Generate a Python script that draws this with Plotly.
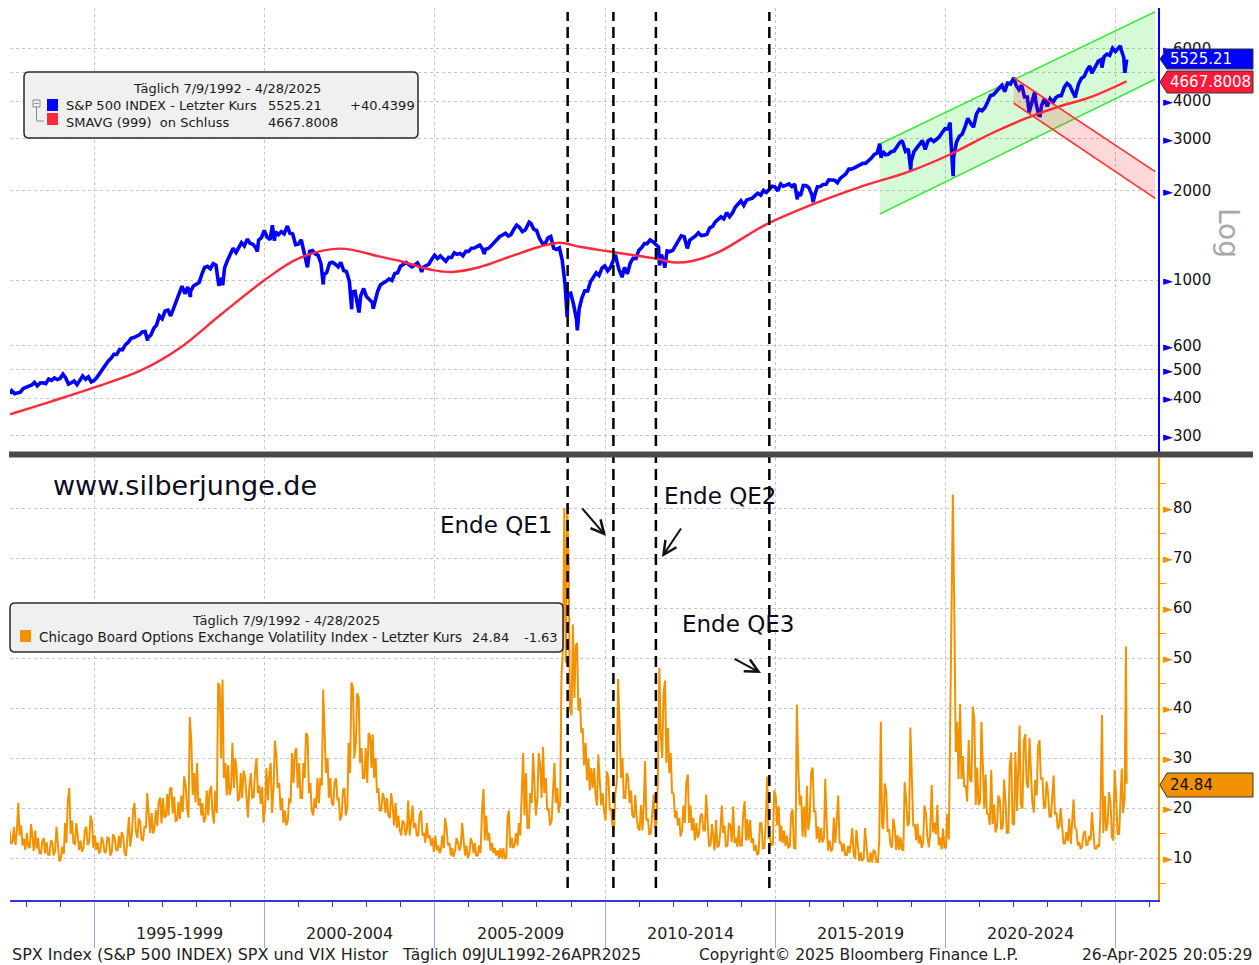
import pandas as pd
import plotly.graph_objects as go

# ---------------- data ----------------
spx_start_date = "1992-07-09"
spx_start_value = 414.0
# S&P 500 monthly closes, Jul 1992 .. Apr 2025 (last = 4/28/2025)
spx_monthly_close = [
    424, 414, 418, 419, 431, 436,
    439, 443, 452, 440, 450, 451, 448, 464, 459, 468, 462, 466,
    482, 467, 446, 451, 457, 444, 458, 475, 463, 472, 454, 459,
    470, 487, 501, 515, 533, 545, 562, 562, 584, 582, 605, 616,
    636, 640, 645, 654, 669, 671, 640, 652, 687, 705, 757, 741,
    786, 791, 757, 801, 848, 885, 954, 899, 947, 915, 955, 970,
    980, 1049, 1102, 1112, 1091, 1134, 1121, 957, 1017, 1099, 1164, 1229,
    1280, 1238, 1286, 1335, 1302, 1373, 1329, 1320, 1283, 1363, 1389, 1469,
    1394, 1366, 1499, 1452, 1421, 1455, 1431, 1518, 1437, 1429, 1315, 1320,
    1366, 1240, 1160, 1249, 1256, 1224, 1211, 1134, 1041, 1060, 1139, 1148,
    1130, 1107, 1147, 1076, 1067, 990, 912, 916, 815, 886, 936, 880,
    856, 841, 848, 917, 964, 975, 990, 1008, 996, 1051, 1058, 1112,
    1131, 1145, 1126, 1107, 1121, 1141, 1102, 1104, 1115, 1130, 1174, 1212,
    1181, 1204, 1181, 1157, 1192, 1191, 1234, 1220, 1229, 1207, 1249, 1248,
    1280, 1281, 1295, 1311, 1270, 1270, 1277, 1304, 1336, 1378, 1401, 1418,
    1438, 1407, 1421, 1482, 1531, 1503, 1455, 1474, 1527, 1549, 1481, 1468,
    1379, 1331, 1323, 1386, 1400, 1280, 1267, 1283, 1166, 969, 896, 903,
    826, 735, 798, 873, 919, 919, 987, 1021, 1057, 1036, 1096, 1115,
    1074, 1104, 1169, 1187, 1089, 1031, 1102, 1049, 1141, 1183, 1181, 1258,
    1286, 1327, 1326, 1364, 1345, 1321, 1292, 1219, 1131, 1253, 1247, 1258,
    1312, 1366, 1408, 1398, 1310, 1362, 1379, 1407, 1441, 1412, 1416, 1426,
    1498, 1515, 1569, 1598, 1631, 1606, 1686, 1633, 1682, 1757, 1806, 1848,
    1783, 1859, 1872, 1884, 1924, 1960, 1931, 2003, 1972, 2018, 2068, 2059,
    1995, 2105, 2068, 2086, 2107, 2063, 2104, 1972, 1920, 2079, 2080, 2044,
    1940, 1932, 2060, 2065, 2097, 2099, 2174, 2171, 2168, 2126, 2199, 2239,
    2279, 2364, 2363, 2384, 2412, 2423, 2470, 2472, 2519, 2575, 2648, 2674,
    2824, 2714, 2641, 2648, 2705, 2718, 2816, 2902, 2914, 2712, 2760, 2507,
    2704, 2784, 2834, 2946, 2752, 2942, 2980, 2926, 2977, 3038, 3141, 3231,
    3226, 2954, 2585, 2912, 3044, 3100, 3271, 3500, 3363, 3270, 3622, 3756,
    3714, 3811, 3973, 4181, 4204, 4298, 4395, 4523, 4308, 4605, 4567, 4766,
    4516, 4374, 4530, 4132, 4132, 3785, 4130, 3955, 3586, 3872, 4080, 3840,
    4077, 3970, 4109, 4169, 4180, 4450, 4589, 4508, 4288, 4194, 4568, 4770,
    4846, 5096, 5254, 5036, 5278, 5460, 5522, 5648, 5762, 5705, 6032, 5882,
    6041, 5955, 5612, 5525.21,
]
# intra-month highs / lows visible in the chart
spx_swing_dates = [
    "1996-07-24", "1997-10-27", "1998-10-08", "1999-10-15", "2000-03-24", "2000-04-14",
    "2000-09-01", "2001-04-04", "2001-09-21", "2002-07-23", "2002-10-09", "2003-03-11",
    "2004-08-12", "2006-06-13", "2007-10-09", "2008-11-20", "2009-03-09", "2010-04-23",
    "2010-07-02", "2011-08-08", "2011-10-03", "2012-06-01", "2015-08-25", "2016-02-11",
    "2018-01-26", "2018-02-08", "2018-09-20", "2018-12-24", "2020-02-19", "2020-03-23",
    "2022-01-03", "2022-06-16", "2022-08-16", "2022-10-12", "2023-10-27", "2024-04-19",
    "2024-08-05", "2025-02-19", "2025-04-08",
]
spx_swing_values = [
    626, 877, 959, 1247, 1527, 1357,
    1520, 1103, 966, 797, 777, 800,
    1064, 1223, 1565, 752, 677, 1217,
    1022, 1119, 1099, 1278, 1867, 1829,
    2873, 2581, 2931, 2351, 3386, 2237,
    4797, 3667, 4305, 3577, 4117, 4967,
    5186, 6144, 4983,
]
# SMAVG (999)
sma_dates = [
    "1992-07-09", "1993-09-12", "1995-01-01", "1996-05-08", "1997-07-01", "1998-09-12",
    "2000-01-01", "2001-01-01", "2002-03-15", "2003-05-27", "2003-12-20", "2004-12-10",
    "2005-07-01", "2006-04-20", "2007-03-15", "2008-01-30", "2008-09-01", "2009-04-01",
    "2010-01-15", "2010-10-20", "2011-08-07", "2011-12-24", "2012-07-26", "2013-05-12",
    "2014-09-12", "2016-04-20", "2017-06-17", "2018-12-05", "2020-02-06", "2021-05-12",
    "2022-05-12", "2023-05-01", "2024-04-20", "2025-04-28",
]
sma_values = [
    353, 389, 435, 495, 589, 762,
    1000, 1183, 1275, 1198, 1159, 1080,
    1064, 1104, 1198, 1294, 1335, 1294,
    1252, 1214, 1174, 1147, 1159, 1246,
    1531, 1836, 2052, 2318, 2636, 3120,
    3500, 3835, 4143, 4667.8,
]
# VIX, two readings per month (early / late), Jul 1992 .. Apr 2025
vix_halfmonth = [
    15.5, 12.8, 13.2, 16.2, 12.6, 15.2, 21.0, 14.5, 16.5, 12.5, 13.9, 11.6,
    15.0, 12.3, 12.0, 16.8, 14.5, 11.4, 15.5, 11.9, 14.0, 11.0, 10.9, 13.3, 14.0, 10.9, 13.2, 10.7, 10.6, 13.5, 13.2, 10.5, 11.5, 16.3, 12.6, 9.3,
    9.9, 12.3, 10.8, 17.0, 13.0, 21.0, 24.0, 14.8, 17.5, 13.0, 12.8, 17.0, 14.4, 11.6, 13.5, 11.2, 12.0, 15.5, 16.3, 12.6, 13.2, 18.5, 17.3, 12.0,
    14.5, 11.6, 13.1, 10.9, 11.4, 14.2, 13.1, 11.0, 11.3, 14.1, 13.9, 10.5, 11.2, 14.8, 14.0, 11.7, 11.4, 14.5, 12.0, 15.2, 14.3, 11.0, 10.4, 14.8,
    18.2, 12.3, 14.8, 19.5, 21.0, 15.4, 14.0, 17.9, 17.2, 13.8, 13.4, 16.2, 16.0, 23.0, 19.0, 15.0, 19.0, 14.9, 15.9, 19.6, 16.4, 21.3, 22.1, 16.9,
    22.0, 18.2, 18.3, 22.8, 18.5, 23.8, 24.1, 18.9, 22.3, 17.4, 17.6, 21.2, 17.8, 22.5, 19.2, 26.3, 24.5, 20.0, 18.1, 38.2, 33.0, 22.6, 27.0, 21.1,
    29.0, 20.5, 22.0, 18.5, 21.0, 17.1, 18.0, 23.5, 18.5, 23.2, 24.4, 19.2, 16.9, 23.5, 19.0, 45.0, 44.3, 30.0, 45.7, 26.0, 29.0, 22.5, 28.6, 22.6,
    24.0, 33.0, 24.0, 30.0, 27.5, 21.4, 22.0, 27.0, 22.0, 27.5, 26.0, 21.0, 18.1, 24.0, 27.0, 22.0, 22.2, 27.3, 30.0, 23.0, 24.5, 20.8, 24.2, 17.0,
    20.0, 28.0, 21.5, 27.0, 29.0, 19.0, 24.0, 33.5, 30.5, 24.0, 25.0, 19.5, 22.0, 17.0, 19.5, 16.5, 17.5, 22.0, 21.0, 31.0, 25.0, 31.0, 32.0, 24.0,
    29.0, 22.0, 22.0, 29.0, 26.0, 35.0, 34.5, 23.0, 25.0, 19.5, 18.5, 22.0, 20.0, 26.0, 21.0, 26.0, 24.5, 43.7, 36.0, 27.0, 30.0, 22.0, 26.0, 21.0,
    20.5, 25.0, 26.0, 21.5, 22.0, 17.5, 18.5, 23.5, 24.0, 18.5, 20.0, 33.0, 27.0, 45.1, 44.0, 30.0, 33.0, 43.0, 42.1, 29.0, 32.0, 26.0, 26.0, 32.0,
    25.0, 35.0, 34.5, 28.0, 34.7, 26.0, 30.0, 23.0, 24.0, 19.5, 19.5, 23.0, 22.0, 19.0, 22.0, 18.5, 18.0, 23.0, 20.5, 16.5, 21.0, 16.0, 18.5, 15.6,
    14.5, 17.5, 17.0, 14.5, 15.5, 21.5, 14.5, 18.0, 20.5, 16.0, 17.0, 14.5, 14.5, 18.5, 19.5, 14.5, 15.0, 13.0, 17.0, 14.0, 14.5, 12.5, 14.0, 11.2,
    14.5, 11.5, 12.5, 11.0, 11.5, 14.5, 12.0, 18.0, 16.0, 12.5, 13.0, 10.5, 12.0, 10.2, 11.5, 14.0, 13.0, 11.5, 12.5, 17.0, 14.0, 10.5, 12.5, 10.0,
    11.0, 14.0, 13.0, 11.0, 13.0, 10.5, 10.5, 12.5, 11.0, 19.0, 23.8, 13.5, 18.5, 13.5, 15.0, 11.5, 13.0, 11.0, 12.0, 10.5, 11.5, 9.9, 12.0, 9.9,
    12.0, 9.9, 10.0, 18.3, 19.5, 12.0, 14.0, 12.0, 12.5, 15.0, 12.5, 17.0, 14.5, 24.0, 31.0, 18.5, 27.0, 16.0, 16.0, 23.0, 21.0, 31.0, 25.0, 18.5,
    22.0, 31.0, 28.0, 22.0, 32.2, 23.0, 26.0, 19.5, 20.0, 16.5, 17.5, 24.0, 29.0, 21.0, 24.0, 19.0, 21.0, 46.7, 52.0, 80.0, 49.0, 80.9, 68.0, 40.0,
    38.5, 56.7, 42.0, 52.6, 53.0, 39.5, 42.0, 35.0, 36.0, 28.5, 33.0, 25.5, 30.0, 23.5, 28.0, 24.0, 28.0, 22.5, 20.5, 30.7, 25.0, 20.5, 23.0, 19.5,
    17.5, 27.3, 26.0, 19.5, 20.0, 16.5, 15.6, 22.8, 25.0, 45.8, 35.9, 26.0, 30.0, 22.0, 22.0, 27.0, 26.0, 21.0, 23.5, 18.5, 18.0, 22.6, 18.0, 16.0,
    15.5, 20.6, 15.5, 20.8, 29.4, 17.5, 17.9, 14.6, 15.0, 18.3, 22.7, 16.0, 17.0, 25.2, 48.0, 35.0, 30.0, 43.0, 45.5, 29.0, 36.0, 27.0, 31.0, 23.0,
    22.9, 18.0, 19.5, 16.5, 18.0, 14.3, 15.6, 20.5, 17.0, 25.0, 26.7, 17.0, 20.5, 15.5, 18.0, 13.5, 17.0, 14.0, 15.0, 18.5, 18.9, 15.5, 15.5, 22.7,
    18.0, 12.3, 12.7, 16.8, 14.5, 11.5, 17.6, 12.1, 12.5, 15.0, 20.5, 15.0, 16.5, 12.2, 12.5, 17.0, 16.5, 13.2, 20.3, 13.0, 14.0, 12.2, 16.5, 12.5,
    12.5, 18.4, 21.4, 13.5, 17.8, 13.5, 17.6, 13.0, 14.0, 11.4, 12.6, 10.6, 11.0, 16.9, 17.0, 11.9, 12.0, 17.0, 26.3, 14.0, 14.0, 12.5, 12.8, 23.5,
    22.4, 16.5, 20.4, 13.3, 16.5, 13.0, 15.5, 12.4, 14.5, 12.1, 12.3, 18.9, 19.7, 12.0, 11.9, 40.7, 27.3, 20.5, 22.5, 14.3, 20.3, 14.1, 24.4, 15.6,
    18.0, 27.0, 28.1, 19.2, 19.5, 13.8, 16.3, 13.0, 16.0, 13.1, 14.0, 25.8, 16.5, 11.5, 13.5, 11.3, 11.8, 18.1, 13.0, 17.0, 22.5, 12.9, 13.2, 11.3,
    12.9, 10.6, 10.6, 12.4, 11.0, 12.8, 16.0, 10.8, 9.8, 15.6, 11.4, 9.4, 11.1, 9.4, 10.0, 16.0, 12.3, 9.5, 9.2, 11.1, 9.1, 11.5, 11.3, 9.2,
    9.2, 13.5, 37.3, 16.5, 15.8, 24.9, 23.2, 15.2, 15.8, 12.6, 12.1, 17.9, 16.0, 11.6, 14.6, 11.6, 14.2, 11.7, 11.6, 25.2, 21.5, 16.4, 16.9, 36.1,
    25.4, 16.5, 16.6, 13.5, 16.9, 12.9, 14.5, 12.0, 13.1, 20.5, 18.9, 14.5, 12.1, 14.5, 24.6, 15.1, 17.1, 14.7, 20.6, 12.5, 14.1, 11.7, 15.9, 12.1,
    12.1, 18.8, 13.7, 40.1, 54.0, 82.7, 57.0, 31.2, 37.2, 25.8, 40.8, 25.8, 30.4, 24.2, 24.5, 21.3, 33.6, 25.6, 25.2, 40.3, 37.6, 20.6, 28.1, 20.6,
    21.2, 37.2, 28.0, 19.9, 26.7, 18.9, 18.7, 16.6, 27.6, 16.8, 20.7, 15.1, 16.2, 22.5, 21.7, 15.7, 16.1, 25.7, 21.3, 15.0, 15.1, 28.6, 31.1, 16.9,
    16.6, 31.2, 19.4, 30.3, 36.5, 20.6, 19.9, 33.4, 34.8, 25.0, 24.0, 34.0, 27.5, 21.3, 19.1, 25.6, 22.5, 32.3, 33.6, 25.7, 26.1, 20.3, 19.9, 25.3,
    23.0, 18.3, 18.3, 22.9, 26.5, 18.7, 19.1, 15.8, 16.5, 20.0, 15.2, 12.9, 12.9, 15.2, 13.4, 17.9, 12.8, 18.0, 21.7, 16.1, 15.7, 12.5, 13.2, 11.8,
    12.4, 14.8, 15.4, 12.6, 12.7, 14.4, 13.5, 19.2, 15.4, 11.9, 11.9, 12.7, 12.2, 18.5, 38.6, 15.0, 22.4, 15.4, 16.9, 23.2, 21.0, 14.2, 13.5, 27.6,
    22.1, 14.8, 14.8, 21.1, 27.9, 19.0, 21.8, 52.3,
]
vix_last_date = "2025-04-28"
vix_last_value = 24.84

qe_dates = ["2008-11-25", "2010-03-31", "2011-06-30", "2014-10-29"]
band_edges = ["1995-01-01", "2000-01-01", "2005-01-01", "2010-01-01",
              "2015-01-01", "2020-01-01", "2025-01-01"]
band_labels = ["1995-1999", "2000-2004", "2005-2009", "2010-2014", "2015-2019", "2020-2024"]
year_ticks = [f"{y}-01-01" for y in range(1993, 2027)]
spx_ticks = [300, 400, 500, 600, 1000, 2000, 3000, 4000, 5000, 6000]
spx_tick_text = ["300", "400", "500", "600", "1000", "2000", "3000", "4000", "", "6000"]
vix_ticks = [10, 20, 30, 40, 50, 60, 70, 80]
vix_minor = [5, 15, 25, 35, 45, 55, 65, 75, 85]

green_dates = ["2018-01-26", "2026-02-28"]
green_top = [2872, 8000]
green_bottom = [1667, 4742]
red_dates = ["2022-01-03", "2026-02-28"]
red_top = [4797, 2317]
red_bottom = [3936, 1883]

# ---------------- geometry ----------------
W, H = 1259, 965
ML, MR, MT, MB = 10, 101, 8, 65
PW, PH = W - ML - MR, H - MT - MB


def px(x):
    return (x - ML) / PW


def py(y):
    return (H - MB - y) / PH


def month_date(i, day):
    k = 6 + i
    return f"{1992 + k // 12}-{k % 12 + 1:02d}-{day:02d}"


assert len(spx_monthly_close) == 394
assert len(vix_halfmonth) == 2 * 394

spx_df = pd.DataFrame({
    "d": [spx_start_date] + [month_date(i, 28) for i in range(len(spx_monthly_close))] + spx_swing_dates,
    "v": [spx_start_value] + spx_monthly_close + spx_swing_values,
})
spx_df["d"] = pd.to_datetime(spx_df["d"])
spx_df = spx_df.sort_values("d")

vix_x = [month_date(i // 2, 6 if i % 2 == 0 else 20) for i in range(len(vix_halfmonth))] + [vix_last_date]
vix_y = vix_halfmonth + [vix_last_value]

FONT = "DejaVu Sans"
BLUE = "#0000ff"
RED = "#ff2a3c"
ORANGE = "#f29200"

fig = go.Figure()

# green channel (below the lines)
fig.add_trace(go.Scatter(
    x=[green_dates[0], green_dates[1], green_dates[1], green_dates[0]],
    y=[green_top[0], green_top[1], green_bottom[1], green_bottom[0]],
    fill="toself", fillcolor="rgba(0,220,0,0.16)", line=dict(width=0),
    mode="lines", hoverinfo="skip", showlegend=False, xaxis="x", yaxis="y"))
for yy in (green_top, green_bottom):
    fig.add_trace(go.Scatter(x=green_dates, y=yy, mode="lines",
                             line=dict(color="#3fe83f", width=1.6),
                             hoverinfo="skip", showlegend=False, xaxis="x", yaxis="y"))

fig.add_trace(go.Scatter(x=spx_df["d"], y=spx_df["v"], mode="lines",
                         line=dict(color=BLUE, width=3.6),
                         name="S&P 500", showlegend=False, xaxis="x", yaxis="y"))
fig.add_trace(go.Scatter(x=sma_dates, y=sma_values, mode="lines",
                         line=dict(color=RED, width=2.4, shape="spline", smoothing=1.0),
                         name="SMAVG (999)", showlegend=False, xaxis="x", yaxis="y"))

# red channel (above the lines, translucent)
fig.add_trace(go.Scatter(
    x=[red_dates[0], red_dates[1], red_dates[1], red_dates[0]],
    y=[red_top[0], red_top[1], red_bottom[1], red_bottom[0]],
    fill="toself", fillcolor="rgba(255,0,0,0.15)", line=dict(width=0),
    mode="lines", hoverinfo="skip", showlegend=False, xaxis="x", yaxis="y"))
for yy in (red_top, red_bottom):
    fig.add_trace(go.Scatter(x=red_dates, y=yy, mode="lines",
                             line=dict(color="#ff3030", width=1.6),
                             hoverinfo="skip", showlegend=False, xaxis="x", yaxis="y"))

fig.add_trace(go.Scatter(x=vix_x, y=vix_y, mode="lines",
                         line=dict(color=ORANGE, width=2),
                         name="VIX", showlegend=False, xaxis="x", yaxis="y2"))

grid = dict(showgrid=True, gridcolor="#c4c4c4", griddash="dot", gridwidth=1)
TRI = '<span style="color:{c};font-size:13px">►</span>'

fig.update_layout(
    width=W, height=H, autosize=False,
    margin=dict(l=ML, r=MR, t=MT, b=MB),
    paper_bgcolor="white", plot_bgcolor="white",
    font=dict(family=FONT, size=15, color="#111"),
    showlegend=False,
    xaxis=dict(type="date", domain=[0, 1], anchor="y2",
               range=["1992-07-09", "2026-03-30"],
               tickmode="array", tickvals=band_edges, showticklabels=False,
               ticks="outside", ticklen=46, tickwidth=1, tickcolor="#a0a0f0",
               showline=True, linecolor="#3434e0", linewidth=2, zeroline=False,
               minor=dict(tickmode="array", tickvals=year_ticks, ticks="outside",
                          ticklen=5, tickwidth=1, tickcolor="#3434e0", showgrid=False),
               **grid),
    yaxis=dict(type="log", domain=[py(452), 1], anchor="x", side="right",
               range=[3 - (452 - 280) / 297, 3 + (280 - 8) / 297],
               tickmode="array", tickvals=spx_ticks,
               ticktext=[(TRI.format(c=BLUE) + t) if t else "" for t in spx_tick_text],
               ticks="", showline=True, linecolor=BLUE, linewidth=2, zeroline=False,
               tickfont=dict(family=FONT, size=15, color="#111"), **grid),
    yaxis2=dict(domain=[0, py(458)], anchor="x", side="right", range=[1.6, 90],
                tickmode="array", tickvals=vix_ticks,
                ticktext=[TRI.format(c=ORANGE) + str(v) for v in vix_ticks],
                ticks="", showline=True, linecolor=ORANGE, linewidth=2, zeroline=False,
                tickfont=dict(family=FONT, size=15, color="#111"),
                minor=dict(tickmode="array", tickvals=vix_minor, ticks="outside",
                           ticklen=6, tickwidth=1, tickcolor=ORANGE, showgrid=False),
                **grid),
)

shapes = []
# QE dashed lines through both panels
for d in qe_dates:
    shapes.append(dict(type="line", xref="x", yref="paper", x0=d, x1=d,
                       y0=py(888), y1=py(12), layer="above",
                       line=dict(color="black", width=2.5, dash="11px,6px")))
# panel separator
shapes.append(dict(type="rect", xref="paper", yref="paper", x0=px(9), x1=px(1253),
                   y0=py(457.5), y1=py(451.5), fillcolor="#4a4a4a", line=dict(width=0),
                   layer="above"))


def ppath(points):
    return "M " + " L ".join(f"{px(x):.5f},{py(y):.5f}" for x, y in points) + " Z"


def rrect(x0, y0, x1, y1, r):
    def p(x, y):
        return f"{px(x):.5f},{py(y):.5f}"
    return (f"M {p(x0 + r, y0)} L {p(x1 - r, y0)} Q {p(x1, y0)} {p(x1, y0 + r)} "
            f"L {p(x1, y1 - r)} Q {p(x1, y1)} {p(x1 - r, y1)} L {p(x0 + r, y1)} "
            f"Q {p(x0, y1)} {p(x0, y1 - r)} L {p(x0, y0 + r)} Q {p(x0, y0)} {p(x0 + r, y0)} Z")


# legend boxes
for (x0, y0, x1, y1) in [(24, 72, 418, 138), (10, 603, 563, 652)]:
    shapes.append(dict(type="path", xref="paper", yref="paper", path=rrect(x0, y0, x1, y1, 5),
                       fillcolor="#f0f0f0", line=dict(color="#2a2a2a", width=1.5), layer="above"))
# legend colour squares
for (x0, y0, col) in [(47, 99, BLUE), (47, 113, RED), (20, 630, ORANGE)]:
    shapes.append(dict(type="rect", xref="paper", yref="paper", x0=px(x0), x1=px(x0 + 11),
                       y0=py(y0 + 12), y1=py(y0), fillcolor=col, line=dict(width=0), layer="above"))
# tree glyph
shapes.append(dict(type="rect", xref="paper", yref="paper", x0=px(33), x1=px(40), y0=py(107), y1=py(100),
                   line=dict(color="#888", width=1), fillcolor="rgba(0,0,0,0)", layer="above"))
shapes.append(dict(type="line", xref="paper", yref="paper", x0=px(34.5), x1=px(38.5), y0=py(103.5), y1=py(103.5),
                   line=dict(color="#888", width=1), layer="above"))
shapes.append(dict(type="path", xref="paper", yref="paper",
                   path=f"M {px(36.5)},{py(107)} L {px(36.5)},{py(121)} L {px(44)},{py(121)}",
                   line=dict(color="#888", width=1), layer="above"))

# value tags on the right axis
for (yc, col, h) in [(59, BLUE, 10), (82, "#ff1a3c", 11), (785, ORANGE, 12)]:
    shapes.append(dict(type="path", xref="paper", yref="paper",
                       path=ppath([(1160, yc), (1167, yc - h), (1253, yc - h), (1253, yc + h), (1167, yc + h)]),
                       fillcolor=col, line=dict(color="#333", width=1), layer="above"))

fig.update_layout(shapes=shapes)

ann = []


def text(x, y, s, size=13, color="#1a1a1a", xanchor="left", **kw):
    ann.append(dict(xref="paper", yref="paper", x=px(x), y=py(y), text=s, showarrow=False,
                    xanchor=xanchor, yanchor="middle", borderpad=0, borderwidth=0,
                    font=dict(family=FONT, size=size, color=color), **kw))


# legend texts
text(227, 89, "Täglich 7/9/1992 - 4/28/2025", xanchor="center")
text(66, 106, "S&P 500 INDEX - Letzter Kurs")
text(268, 106, "5525.21")
text(350, 106, "+40.4399")
text(66, 123, "SMAVG (999)\u00a0\u00a0on Schluss")
text(268, 123, "4667.8008")
text(286, 620, "Täglich 7/9/1992 - 4/28/2025", xanchor="center")
text(39, 637, "Chicago Board Options Exchange Volatility Index - Letzter Kurs", size=13.5)
text(472, 637, "24.84")
text(524, 637, "-1.63")

# tags text
text(1170, 59, "5525.21", size=15, color="white")
text(1170, 82, "4667.8008", size=15, color="white")
text(1170, 785, "24.84", size=15, color="#111")

# Log label
text(1229, 233, "Log", size=28, color="#a8a8a8", xanchor="center", textangle=90)

# headline texts
text(185, 485, "www.silberjunge.de", size=27, color="#0b0b1e", xanchor="center")
text(496, 525, "Ende QE1", size=23, color="#0b0b1e", xanchor="center")
text(720, 496, "Ende QE2", size=23, color="#0b0b1e", xanchor="center")
text(738, 624, "Ende QE3", size=23, color="#0b0b1e", xanchor="center")

# arrows (head, tail)
for (hx, hy, tx, ty) in [(606, 536, 581, 507), (662, 557, 682, 527), (761, 673, 733, 658)]:
    ann.append(dict(xref="paper", yref="paper", x=px(hx), y=py(hy), ax=tx - hx, ay=ty - hy,
                    axref="pixel", ayref="pixel", text="", showarrow=True, arrowhead=5,
                    arrowsize=1.3, arrowwidth=2, arrowcolor="#111", standoff=0))

# band labels under the x axis
edges = pd.to_datetime(band_edges)
for i, lab in enumerate(band_labels):
    mid = edges[i] + (edges[i + 1] - edges[i]) / 2
    ann.append(dict(xref="x", yref="paper", x=mid.strftime("%Y-%m-%d"), y=py(933), text=lab,
                    showarrow=False, xanchor="center", yanchor="middle", borderpad=0, borderwidth=0,
                    font=dict(family=FONT, size=16, color="#222")))

# footer
text(12, 955, "SPX Index (S&P 500 INDEX) SPX und VIX Histor", size=16, color="#222")
text(402, 955, "Täglich 09JUL1992-26APR2025", size=15.5, color="#222")
text(699, 955, "Copyright© 2025 Bloomberg Finance L.P.", size=15.5, color="#222")
text(1252, 955, "26-Apr-2025 20:05:29", size=15.5, color="#222", xanchor="right")

fig.update_layout(annotations=ann)

fig.write_html("out.html", config={"displayModeBar": False},
               post_script="document.body.style.margin='0';document.body.style.overflow='hidden';")
